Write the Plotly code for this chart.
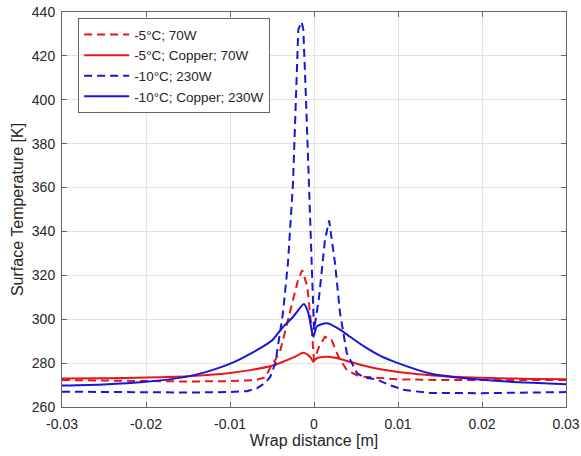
import plotly.graph_objects as go

# ---- data (x in m, T in K) ----
x_red_dash = [-0.03, -0.025, -0.02, -0.015, -0.01, -0.007, -0.0058, -0.0052, -0.0046, -0.004,
              -0.0034, -0.0029, -0.0024, -0.0019, -0.0014, -0.0008, -0.00027, 0.0, 0.0006, 0.0013,
              0.0021, 0.0029, 0.0039, 0.0051, 0.006, 0.007, 0.008, 0.01, 0.015, 0.02, 0.025, 0.03]
t_red_dash = [272.3, 272.0, 271.6, 271.6, 271.8, 272.2, 273.5, 278.0, 281.5, 286.0,
              295.0, 302.7, 310.0, 317.9, 322.4, 315.0, 295.0, 281.4, 287.4, 292.0,
              290.5, 283.0, 276.8, 274.5, 273.8, 273.5, 273.0, 272.6, 272.3, 272.2, 272.2, 272.3]

x_red_solid = [-0.03, -0.025, -0.02, -0.015, -0.01, -0.0076, -0.005, -0.0037, -0.0025, -0.0013,
               -0.0008, -0.0004, -0.00008, 0.0003, 0.0008, 0.0015, 0.0025, 0.0043, 0.006, 0.0079,
               0.01, 0.0138, 0.018, 0.022, 0.026, 0.03]
t_red_solid = [273.0, 273.1, 273.4, 274.0, 275.5, 276.8, 278.8, 280.6, 282.5, 284.7,
               284.0, 282.5, 280.6, 282.2, 282.7, 282.9, 282.4, 280.6, 278.8, 277.2,
               276.0, 274.5, 273.6, 273.1, 272.8, 272.6]

x_blue_dash = [-0.03, -0.025, -0.02, -0.015, -0.01, -0.008, -0.0068, -0.0058, -0.0052, -0.0046,
               -0.0037, -0.0031, -0.0025, -0.00214, -0.00187, -0.00147, -0.00127, -0.00095, -0.00068,
               -0.00027, -0.0001, 0.0, 0.0006, 0.0013, 0.0018, 0.0025, 0.0031, 0.0039, 0.0051,
               0.006, 0.0075, 0.009, 0.0108, 0.0138, 0.02, 0.025, 0.03]
t_blue_dash = [267.0, 266.8, 266.6, 266.6, 266.8, 267.2, 268.5, 271.0, 273.8, 280.0,
               302.8, 325.6, 362.0, 400.0, 432.0, 435.5, 432.0, 400.0, 369.0,
               318.0, 298.0, 295.0, 310.0, 336.0, 345.0, 325.6, 302.8, 284.6, 275.5,
               273.5, 272.5, 270.0, 267.7, 266.4, 266.3, 266.4, 266.8]

x_blue_solid = [-0.03, -0.025, -0.02, -0.0156, -0.0128, -0.0096, -0.0076, -0.0064, -0.005, -0.0037,
                -0.0025, -0.0012, -0.00067, -0.00008, 0.0003, 0.0008, 0.0017, 0.003, 0.0043, 0.006,
                0.0079, 0.01, 0.0138, 0.0177, 0.022, 0.026, 0.03]
t_blue_solid = [269.8, 270.3, 271.5, 273.5, 276.0, 280.3, 284.2, 286.8, 290.3, 296.4,
                301.0, 306.9, 302.8, 292.0, 296.5, 297.6, 298.1, 295.5, 292.0, 287.5,
                283.3, 280.0, 275.3, 273.2, 271.8, 271.0, 270.4]

names = ["-5°C; 70W", "-5°C; Copper; 70W", "-10°C; 230W", "-10°C; Copper; 230W"]
x_ticks = [-0.03, -0.02, -0.01, 0, 0.01, 0.02, 0.03]
x_ticktext = ["-0.03", "-0.02", "-0.01", "0", "0.01", "0.02", "0.03"]
y_ticks = [260, 280, 300, 320, 340, 360, 380, 400, 420, 440]

RED = "rgb(232,22,26)"
BLUE = "rgb(22,22,220)"
FONT = "Liberation Sans, Arial, sans-serif"
TXT = "#262626"

fig = go.Figure()
fig.add_trace(go.Scatter(x=x_red_dash, y=t_red_dash, mode="lines", name=names[0],
                         line=dict(color=RED, width=2, dash="8px,5px")))
fig.add_trace(go.Scatter(x=x_red_solid, y=t_red_solid, mode="lines", name=names[1],
                         line=dict(color=RED, width=2, shape="spline", smoothing=0.6)))
fig.add_trace(go.Scatter(x=x_blue_dash, y=t_blue_dash, mode="lines", name=names[2],
                         line=dict(color=BLUE, width=2, dash="8px,5px")))
fig.add_trace(go.Scatter(x=x_blue_solid, y=t_blue_solid, mode="lines", name=names[3],
                         line=dict(color=BLUE, width=2, shape="spline", smoothing=0.6)))

axis_common = dict(
    showgrid=True, gridcolor="#e3e3e3", gridwidth=1,
    showline=True, linecolor="#666666", linewidth=1, mirror="ticks",
    ticks="inside", ticklen=5, tickcolor="#666666",
    tickfont=dict(family=FONT, size=14, color=TXT),
    zeroline=False, automargin=False,
)

fig.update_layout(
    width=581, height=456,
    margin=dict(l=62, r=15, t=12, b=49),
    paper_bgcolor="white", plot_bgcolor="white",
    font=dict(family=FONT, size=14, color=TXT),
    xaxis=dict(range=[-0.03, 0.03], tickvals=x_ticks, ticktext=x_ticktext,
               ticklabelstandoff=4,
               title=dict(text="Wrap distance [m]", font=dict(family=FONT, size=16, color=TXT),
                          standoff=4),
               **axis_common),
    yaxis=dict(range=[260, 440], tickvals=y_ticks, ticklabelstandoff=3,
               title=dict(text="Surface Temperature [K]", font=dict(family=FONT, size=16, color=TXT),
                          standoff=4),
               **axis_common),
    legend=dict(x=0.032, y=0.984, xanchor="left", yanchor="top",
                bgcolor="white", bordercolor="#666666", borderwidth=1,
                font=dict(family=FONT, size=13.5, color=TXT),
                tracegroupgap=0, itemwidth=45),
    showlegend=True,
)

fig.write_html("out.html")
